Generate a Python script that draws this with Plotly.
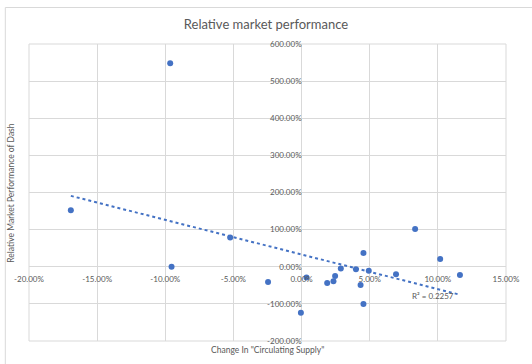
import numpy as np
import plotly.graph_objects as go

# Change in circulating supply (%) and relative market performance of Dash (%)
supply_change = [-16.93, -9.64, -9.54, -5.24, -2.46, -0.05, 0.36, 1.88, 2.34, 2.46,
                 2.88, 3.99, 4.33, 4.54, 4.54, 4.93, 6.93, 8.33, 10.17, 11.62]
performance = [152, 548, 0, 79, -41, -124, -29, -44, -39, -25,
               -5, -7, -49, 37, -100, -11, -20, 102, 21, -22]
x_ticks = [-20, -15, -10, -5, 0, 5, 10, 15]
y_ticks = [-200, -100, 0, 100, 200, 300, 400, 500, 600]
r2_label = "R² = 0.2257"
title_text = "Relative market performance"
x_title = 'Change In "Circulating Supply"'
y_title = "Relative Market Performance of Dash"

x = np.array(supply_change, dtype=float)
y = np.array(performance, dtype=float)
slope, intercept = np.polyfit(x, y, 1)
tx = np.array([x.min(), x.max()])
ty = slope * tx + intercept

BLUE = "#4472C4"
GREY = "#595959"
FONT = "Lato"

fig = go.Figure()
fig.add_trace(go.Scatter(x=x, y=y, mode="markers",
                         marker=dict(color=BLUE, size=6), showlegend=False,
                         cliponaxis=False))
fig.add_trace(go.Scatter(x=tx, y=ty, mode="lines",
                         line=dict(color=BLUE, width=2, dash="dot"),
                         showlegend=False))

xr = [x_ticks[0], x_ticks[-1]]
yr = [y_ticks[0], y_ticks[-1]]

fig.update_layout(
    width=532, height=364,
    margin=dict(l=29, r=20, t=44, b=23),
    paper_bgcolor="white", plot_bgcolor="white",
    font=dict(family=FONT, color=GREY, size=8),
    title=dict(text=title_text, x=0.5, xanchor="center", y=1 - 24 / 364,
               yanchor="middle", font=dict(size=13, color=GREY, family=FONT)),
    xaxis=dict(range=xr, tickmode="array", tickvals=x_ticks,
               ticktext=[f"{v:.2f}%" for v in x_ticks],
               showgrid=True, gridcolor="#d9d9d9", gridwidth=1, zeroline=False,
               showline=False, ticks="", anchor="free", ticklabelstandoff=6,
               position=(0 - yr[0]) / (yr[1] - yr[0]),
               tickfont=dict(size=8, color=GREY, family=FONT)),
    yaxis=dict(range=yr, tickmode="array", tickvals=y_ticks,
               ticktext=[f"{v:.2f}%" for v in y_ticks],
               showgrid=True, gridcolor="#d9d9d9", gridwidth=1, zeroline=False,
               showline=False, ticks="", anchor="free",
               position=(0 - xr[0]) / (xr[1] - xr[0]),
               tickfont=dict(size=8, color=GREY, family=FONT)),
    shapes=[
        dict(type="rect", xref="paper", yref="paper",
             x0=0, x1=1, y0=0, y1=1, line=dict(color="#d9d9d9", width=1),
             fillcolor="rgba(0,0,0,0)", layer="below"),
        dict(type="rect", xref="paper", yref="paper",
             x0=(5 - 29) / 483, x1=1.2, y0=-0.2, y1=(341 - 7.5) / 297,
             line=dict(color="#d9d9d9", width=1), fillcolor="rgba(0,0,0,0)"),
    ],
    annotations=[
        dict(text=x_title, xref="paper", yref="paper", x=0.5, y=(341 - 350) / 297,
             showarrow=False, xanchor="center", yanchor="middle",
             font=dict(size=8.5, color=GREY, family=FONT)),
        dict(text=y_title, xref="paper", yref="paper", x=(10 - 29) / 483, y=0.5,
             showarrow=False, textangle=-90, xanchor="center", yanchor="middle",
             font=dict(size=8.5, color=GREY, family=FONT)),
        dict(text=r2_label, x=9.67, y=-78, xref="x", yref="y", showarrow=False,
             xanchor="center", yanchor="middle",
             font=dict(size=8, color=GREY, family=FONT)),
    ],
)

fig.write_html("out.html")
